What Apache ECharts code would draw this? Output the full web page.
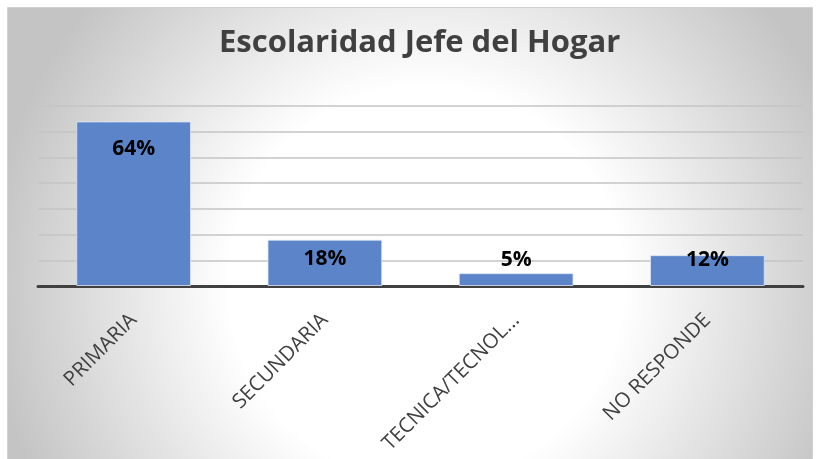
<!DOCTYPE html>
<html>
<head>
<meta charset="utf-8">
<script src="https://cdn.jsdelivr.net/npm/echarts@6/dist/echarts.min.js"></script>
<style>
  html, body { margin: 0; padding: 0; background: #fff; }
  #chart { width: 821px; height: 459px; }
</style>
</head>
<body>
<div id="chart"></div>
<script>
// Escolaridad del jefe del hogar — barras con % en cada barra
const TITLE = 'Escolaridad Jefe del Hogar'
const CATEGORIES = ['PRIMARIA', 'SECUNDARIA', 'TECNICA/TECNOL...', 'NO RESPONDE']
const VALUES = [64, 18, 5, 12]
const Y_MAX = 70
const Y_STEP = 10

// posición de cada etiqueta (el original las tiene colocadas a mano)
const LABEL_POS = [
  { position: 'insideTop', distance: 17 },
  { position: 'insideTop', distance: 9 },
  { position: 'top', distance: 3 },
  { position: 'insideTop', distance: 0, offset: [0, -6] },
]

const COLOR = { bar: '#5b84c9', text: '#404040', grid: '#c4c4c4', axis: '#404040' }
const FONT = '"Open Sans", "Noto Sans", sans-serif'

const chart = echarts.init(document.getElementById('chart'))
chart.setOption({
  backgroundColor: '#fff',
  animation: false,
  graphic: [{
    type: 'rect', z: -10, silent: true,
    shape: { x: 7.5, y: 7.5, width: 805, height: 460 },
    style: {
      fill: {
        type: 'radial', x: 0.52, y: 0.6, r: 0.95,
        colorStops: [
          { offset: 0, color: '#ffffff' },
          { offset: 0.45, color: '#ffffff' },
          { offset: 1, color: '#c4c4c4' },
        ],
      },
      stroke: '#d0d0d0', lineWidth: 1,
    },
  }],
  title: {
    text: TITLE, left: 214, top: 23,
    textStyle: { fontFamily: FONT, fontWeight: 'bold', fontSize: 31, color: COLOR.text },
  },
  grid: { left: 38, right: 18, top: 106, bottom: 173 },
  xAxis: {
    type: 'category', data: CATEGORIES,
    axisLine: { lineStyle: { color: COLOR.axis, width: 3 } },
    axisTick: { show: false },
    axisLabel: {
      interval: 0, rotate: 45, margin: 31,
      fontFamily: FONT, fontSize: 20.5, color: COLOR.text,
    },
  },
  yAxis: {
    type: 'value', min: 0, max: Y_MAX, interval: Y_STEP,
    axisLabel: { show: false },
    axisLine: { show: false }, axisTick: { show: false },
    splitLine: { lineStyle: { color: COLOR.grid, width: 1.5 } },
  },
  series: [{
    type: 'bar', barWidth: '60%',
    itemStyle: { color: COLOR.bar, borderColor: 'rgba(220,230,245,0.8)', borderWidth: 1 },
    data: VALUES.map((v, i) => ({
      value: v,
      label: Object.assign({
        show: true, formatter: '{c}%',
        fontFamily: FONT, fontWeight: 'bold', fontSize: 21, color: '#000',
      }, LABEL_POS[i]),
    })),
  }],
})
</script>
</body>
</html>
